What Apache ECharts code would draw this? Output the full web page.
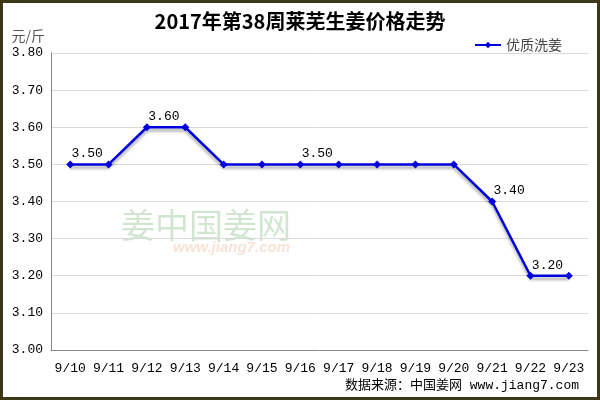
<!DOCTYPE html>
<html><head><meta charset="utf-8">
<script src="https://cdn.jsdelivr.net/npm/echarts@6/dist/echarts.min.js"></script>
<style>html,body{margin:0;padding:0;background:#fff}#c{width:600px;height:400px;box-sizing:border-box;border:3px solid #3d3719}</style>
</head><body><div id="c"></div>
<script>
const categories = ['9/10','9/11','9/12','9/13','9/14','9/15','9/16','9/17','9/18','9/19','9/20','9/21','9/22','9/23'];
const prices = [3.50,3.50,3.60,3.60,3.50,3.50,3.50,3.50,3.50,3.50,3.50,3.40,3.20,3.20];
const labeledIdx = [0,2,6,11,12];
const yTicks = [3.00,3.10,3.20,3.30,3.40,3.50,3.60,3.70,3.80];
const seriesName = '优质洗姜';

const chart = echarts.init(document.getElementById('c'));
const mono = '"Liberation Mono", "Noto Sans CJK SC", monospace';
const cjk = '"Noto Sans CJK SC", sans-serif';
chart.setOption({
  animation:false,
  textStyle:{fontFamily:mono},
  title:{text:'2017年第38周莱芜生姜价格走势',left:'center',top:3,textStyle:{fontSize:20,fontWeight:'bold',color:'#000',fontFamily:cjk}},
  legend:{data:[seriesName],right:30,top:30,itemWidth:26,itemHeight:8,textStyle:{fontSize:14,color:'#444',fontFamily:cjk}},
  grid:{left:48,right:9,top:50,bottom:47},
  xAxis:{type:'category',data:categories,boundaryGap:true,
    axisLine:{lineStyle:{color:'#888'}},
    axisTick:{inside:true,length:5,interval:0,lineStyle:{color:'#888'}},
    axisLabel:{interval:0,fontSize:13,color:'#000',margin:12,fontFamily:mono}},
  yAxis:{type:'value',min:yTicks[0],max:yTicks[yTicks.length-1],interval:0.1,
    name:'元/斤',nameLocation:'end',nameGap:10,nameTextStyle:{fontSize:14,color:'#555',align:'right',padding:[0,6,0,0],fontFamily:cjk},
    axisLine:{show:true,lineStyle:{color:'#888'}},axisTick:{show:false},
    splitLine:{lineStyle:{color:'#d9d9d9'}},
    axisLabel:{fontSize:13,color:'#000',margin:8,fontFamily:mono,formatter:v=>v.toFixed(2)}},
  graphic:[
    {type:'text',left:118,top:205,style:{text:'姜中国姜网',fontSize:34,fill:'rgba(90,160,90,0.28)',fontFamily:cjk}},
    {type:'text',left:170,top:237,style:{text:'www.jiang7.com',fontSize:15,fontStyle:'italic',fontWeight:'bold',fill:'rgba(230,140,90,0.25)',fontFamily:'"Liberation Sans", sans-serif'}},
    {type:'text',right:18,top:376,style:{text:'数据来源：中国姜网 www.jiang7.com',fontSize:13,fill:'#000',fontFamily:mono}}
  ],
  series:[{name:seriesName,type:'line',data:prices.map((v,i)=>({value:v,label:{show:labeledIdx.includes(i)}})),
    symbol:'diamond',symbolSize:8,
    itemStyle:{color:'#0000dd'},
    lineStyle:{color:'#0000dd',width:2.5,shadowColor:'rgba(0,0,0,0.35)',shadowBlur:3,shadowOffsetY:3},
    label:{position:'top',offset:[17,5],fontSize:13,color:'#000',fontFamily:mono,formatter:p=>p.value.toFixed(2)}}]
});
</script></body></html>
